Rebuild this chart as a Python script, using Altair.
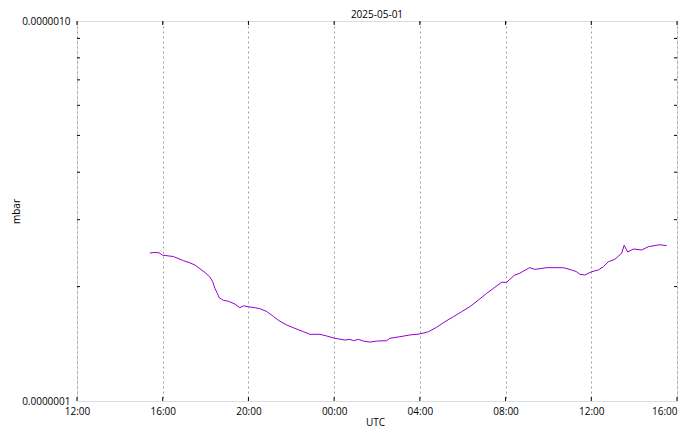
import altair as alt
import pandas as pd

# ---- data ----
times = [
    "2025-04-30T15:24Z", "2025-04-30T15:35Z", "2025-04-30T15:50Z", "2025-04-30T15:59Z",
    "2025-04-30T16:30Z", "2025-04-30T16:58Z", "2025-04-30T17:16Z", "2025-04-30T17:30Z",
    "2025-04-30T17:44Z", "2025-04-30T17:58Z", "2025-04-30T18:12Z", "2025-04-30T18:20Z",
    "2025-04-30T18:26Z", "2025-04-30T18:33Z", "2025-04-30T18:38Z", "2025-04-30T18:50Z",
    "2025-04-30T19:04Z", "2025-04-30T19:22Z", "2025-04-30T19:36Z", "2025-04-30T19:46Z",
    "2025-04-30T20:00Z", "2025-04-30T20:18Z", "2025-04-30T20:32Z", "2025-04-30T20:51Z",
    "2025-04-30T21:10Z", "2025-04-30T21:24Z", "2025-04-30T21:47Z", "2025-04-30T22:10Z",
    "2025-04-30T22:34Z", "2025-04-30T22:52Z", "2025-04-30T23:20Z", "2025-04-30T23:39Z",
    "2025-05-01T00:02Z", "2025-05-01T00:14Z", "2025-05-01T00:30Z", "2025-05-01T00:44Z",
    "2025-05-01T00:54Z", "2025-05-01T01:08Z", "2025-05-01T01:22Z", "2025-05-01T01:40Z",
    "2025-05-01T01:59Z", "2025-05-01T02:27Z", "2025-05-01T02:36Z", "2025-05-01T03:04Z",
    "2025-05-01T03:32Z", "2025-05-01T04:00Z", "2025-05-01T04:24Z", "2025-05-01T04:47Z",
    "2025-05-01T05:10Z", "2025-05-01T05:34Z", "2025-05-01T05:57Z", "2025-05-01T06:20Z",
    "2025-05-01T06:44Z", "2025-05-01T07:07Z", "2025-05-01T07:30Z", "2025-05-01T07:49Z",
    "2025-05-01T08:03Z", "2025-05-01T08:24Z", "2025-05-01T08:40Z", "2025-05-01T09:07Z",
    "2025-05-01T09:22Z", "2025-05-01T09:55Z", "2025-05-01T10:42Z", "2025-05-01T11:05Z",
    "2025-05-01T11:19Z", "2025-05-01T11:28Z", "2025-05-01T11:42Z", "2025-05-01T12:01Z",
    "2025-05-01T12:20Z", "2025-05-01T12:34Z", "2025-05-01T12:48Z", "2025-05-01T13:06Z",
    "2025-05-01T13:25Z", "2025-05-01T13:32Z", "2025-05-01T13:42Z", "2025-05-01T13:58Z",
    "2025-05-01T14:21Z", "2025-05-01T14:40Z", "2025-05-01T15:12Z", "2025-05-01T15:31Z",
]
pressure_e7 = [
    2.45, 2.46, 2.455, 2.42,
    2.40, 2.34, 2.31, 2.28,
    2.23, 2.18, 2.12, 2.06,
    1.98, 1.92, 1.87, 1.84,
    1.83, 1.80, 1.76, 1.78,
    1.77, 1.76, 1.75, 1.72,
    1.67, 1.63, 1.585, 1.553,
    1.522, 1.498, 1.498, 1.483,
    1.462, 1.456, 1.447, 1.453,
    1.441, 1.453, 1.438, 1.429,
    1.438, 1.441, 1.462, 1.476,
    1.492, 1.501, 1.522, 1.563,
    1.616, 1.667, 1.718, 1.771,
    1.844, 1.920, 1.992, 2.053,
    2.053, 2.14, 2.17, 2.243,
    2.22, 2.243, 2.243, 2.212,
    2.189, 2.155, 2.146, 2.189,
    2.212, 2.257, 2.326, 2.360,
    2.447, 2.569, 2.466, 2.512,
    2.497, 2.547, 2.578, 2.563,
]
x_ticks = [
    "2025-04-30T12:00Z", "2025-04-30T16:00Z", "2025-04-30T20:00Z", "2025-05-01T00:00Z",
    "2025-05-01T04:00Z", "2025-05-01T08:00Z", "2025-05-01T12:00Z", "2025-05-01T16:00Z",
]
y_major = [1e-7, 1e-6]
y_minor = [2e-7, 3e-7, 4e-7, 5e-7, 6e-7, 7e-7, 8e-7, 9e-7]
title_text = "2025-05-01"

df = pd.DataFrame({"t": times, "p": [v * 1e-7 for v in pressure_e7]})
tick_ms = [int(pd.Timestamp(s).value // 10**6) for s in x_ticks]
xt = pd.DataFrame({"t": tick_ms})
ym = pd.DataFrame({"p": y_minor})

FONT = "Open Sans"
xscale = alt.Scale(type="utc", domain=[tick_ms[0], tick_ms[-1]], nice=False)
yscale = alt.Scale(type="log", domain=[1e-7, 1e-6], nice=False)

line = alt.Chart(df).mark_line(color="#9400d3", strokeWidth=1).encode(
    x=alt.X("t:T", scale=xscale,
            axis=alt.Axis(values=tick_ms, labelExpr="utcFormat(datum.value, '%H:%M')",
                          labelAlign=alt.ExprRef(expr="datum.index == 1 ? 'right' : 'center'"),
                          title="UTC", grid=True, gridColor="#a0a0a0",
                          gridDash=[2, 3], gridWidth=1, ticks=False, domain=False,
                          labelPadding=5, labelFont=FONT, labelFontSize=10,
                          labelColor="black", titleFont=FONT, titleFontSize=10,
                          titleFontWeight="normal", titleColor="black",
                          titleY=21, titleX=298, titleBaseline="middle",
                          labelFlush=False, labelOverlap=False)),
    y=alt.Y("p:Q", scale=yscale,
            axis=alt.Axis(values=y_major, labelExpr="format(datum.value, '.7f')",
                          title="mbar", grid=False, ticks=False, domain=False,
                          labelPadding=7, labelFont=FONT, labelFontSize=10,
                          labelColor="black", titleFont=FONT, titleFontSize=10,
                          titleFontWeight="normal", titleColor="black",
                          titleX=-61, titleY=190, titleBaseline="middle",
                          labelFlush=False, labelOverlap=False)),
)

ytick_l = alt.Chart(ym).mark_rule(color="black", strokeWidth=1).encode(
    y=alt.Y("p:Q", scale=yscale), x=alt.value(0), x2=alt.value(3))
ytick_r = alt.Chart(ym).mark_rule(color="black", strokeWidth=1).encode(
    y=alt.Y("p:Q", scale=yscale), x=alt.value(597), x2=alt.value(600))
xtick_b = alt.Chart(xt).mark_rule(color="black", strokeWidth=1).encode(
    x=alt.X("t:T", scale=xscale), y=alt.value(376), y2=alt.value(380))
xtick_t = alt.Chart(xt).mark_rule(color="black", strokeWidth=1).encode(
    x=alt.X("t:T", scale=xscale), y=alt.value(0), y2=alt.value(4))

chart = alt.layer(line, xtick_b, xtick_t, ytick_l, ytick_r).properties(
    width=600, height=380,
    title=alt.TitleParams(title_text, frame="group", anchor="middle", offset=0,
                          dy=14, baseline="bottom", font=FONT, fontSize=10,
                          fontWeight="normal", color="black"),
    autosize=alt.AutoSizeParams(type="none"),
    padding={"left": 69, "top": 13, "right": 5, "bottom": 28},
).configure_view(stroke="black", strokeWidth=1).configure(background="white")

chart.save("out.html", embed_options={"renderer": "svg", "actions": False})
